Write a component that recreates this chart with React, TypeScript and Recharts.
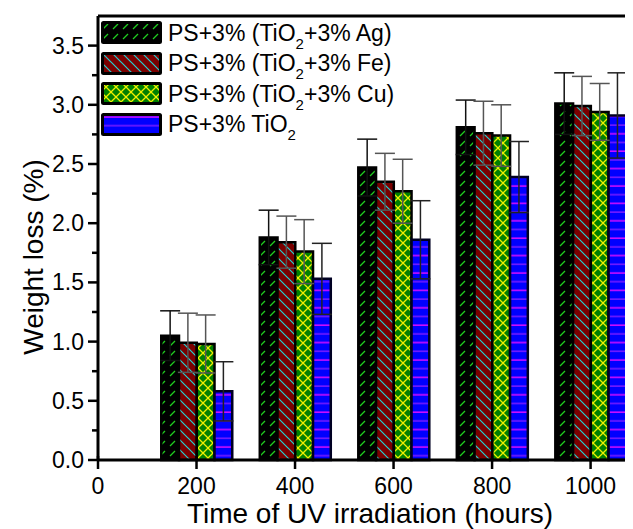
import React from "react";
import { BarChart, Bar, XAxis, YAxis, ErrorBar, ReferenceLine, Legend } from "recharts";

const hours = [200, 400, 600, 800, 1000];
const agLoss = [1.05, 1.88, 2.47, 2.81, 3.01];
const agErr = [0.21, 0.23, 0.24, 0.23, 0.26];
const feLoss = [0.99, 1.84, 2.35, 2.76, 2.99];
const feErr = [0.25, 0.22, 0.24, 0.27, 0.25];
const cuLoss = [0.98, 1.76, 2.27, 2.74, 2.94];
const cuErr = [0.245, 0.27, 0.27, 0.26, 0.24];
const tiLoss = [0.58, 1.53, 1.86, 2.39, 2.91];
const tiErr = [0.25, 0.3, 0.33, 0.3, 0.36];

const xTicks = [0, 200, 400, 600, 800, 1000];
const yTicks = [0, 0.25, 0.5, 0.75, 1, 1.25, 1.5, 1.75, 2, 2.25, 2.5, 2.75, 3, 3.25, 3.5];

const series = [
  { key: "ag", err: "agErr", pat: "patAg", stroke: "#000", errColor: "#111", metal: "Ag" },
  { key: "fe", err: "feErr", pat: "patFe", stroke: "#000", errColor: "#555", metal: "Fe" },
  { key: "cu", err: "cuErr", pat: "patCu", stroke: "#000", errColor: "#555", metal: "Cu" },
  { key: "ti", err: "tiErr", pat: "patTi", stroke: "#000022", errColor: "#222", metal: "" },
];

const data = hours.map((t, i) => ({
  t,
  ag: agLoss[i], agErr: agErr[i],
  fe: feLoss[i], feErr: feErr[i],
  cu: cuLoss[i], cuErr: cuErr[i],
  ti: tiLoss[i], tiErr: tiErr[i],
}));

const FONT = "Arial, 'Liberation Sans', sans-serif";

function Patterns() {
  return (
    <svg width={0} height={0} style={{ position: "absolute" }}>
      <defs>
        <pattern id="patAg" patternUnits="userSpaceOnUse" width={10} height={10}>
          <rect width={10} height={10} fill="#000" />
          <path d="M2,8 L7,3" stroke="#1fd01f" strokeWidth={1.2} />
        </pattern>
        <pattern id="patFe" patternUnits="userSpaceOnUse" width={10} height={10}>
          <rect width={10} height={10} fill="#7a0000" />
          <path d="M-1,-1 L11,11 M-1,9 L1,11 M9,-1 L11,1" stroke="#22d0d0" strokeWidth={1.2} />
        </pattern>
        <pattern id="patCu" patternUnits="userSpaceOnUse" width={10} height={10}>
          <rect width={10} height={10} fill="#008000" />
          <path d="M0,0 L10,10 M10,0 L0,10" stroke="#f0f000" strokeWidth={1.3} />
        </pattern>
        <pattern id="patTi" patternUnits="userSpaceOnUse" width={10} height={17.4}>
          <rect width={10} height={17.4} fill="#0000ff" />
          <path d="M0,4 L10,4" stroke="#ff10ff" strokeWidth={1.3} />
          <path d="M0,12.7 L10,12.7" stroke="#9020ff" strokeWidth={1.3} />
        </pattern>
      </defs>
    </svg>
  );
}

function YTick(props: any) {
  const { x, y, payload } = props;
  const v = payload.value as number;
  const major = Math.abs(v * 2 - Math.round(v * 2)) < 1e-6;
  return (
    <g>
      <line x1={x - (major ? 10 : 6)} x2={x} y1={y} y2={y} stroke="#000" strokeWidth={2.5} />
      {major && (
        <text x={x - 14} y={y + 8} textAnchor="end" fontSize={23} fontFamily={FONT} fill="#000" stroke="none">
          {v.toFixed(1)}
        </text>
      )}
    </g>
  );
}

function XTick(props: any) {
  const { x, y, payload } = props;
  return (
    <g>
      <line x1={x} x2={x} y1={y - 4} y2={y + 9} stroke="#000" strokeWidth={2.5} />
      <text x={x} y={y + 34} textAnchor="middle" fontSize={23} fontFamily={FONT} fill="#000" stroke="none">
        {payload.value}
      </text>
    </g>
  );
}

function YTitle() {
  return (
    <text x={35} y={249} transform="rotate(-90 35 249)" textAnchor="middle" fontSize={28} fontFamily={FONT} fill="#000" stroke="none">
      Weight loss (%)
    </text>
  );
}

function XTitle() {
  return (
    <text x={362} y={515} textAnchor="middle" fontSize={28} fontFamily={FONT} fill="#000" stroke="none">
      Time of UV irradiation (hours)
    </text>
  );
}

function LegendBox() {
  return (
    <div style={{ fontFamily: FONT, fontSize: 23, color: "#000" }}>
      {series.map((s) => (
        <div key={s.key} style={{ display: "flex", alignItems: "center", height: 30.5, whiteSpace: "nowrap" }}>
          <svg width={62} height={24} style={{ marginRight: 5 }}>
            <rect x={1.5} y={1.5} width={58} height={20} fill={`url(#${s.pat})`} stroke="#000" strokeWidth={3} rx={1} />
          </svg>
          <span>
            {s.metal ? "PS+3% (TiO" : "PS+3% TiO"}
            <span style={{ fontSize: 15, position: "relative", top: 8 }}>2</span>
            {s.metal ? `+3% ${s.metal})` : ""}
          </span>
        </div>
      ))}
    </div>
  );
}

export default function App() {
  return (
    <div style={{ position: "relative", width: 625, height: 521 }}>
      <Patterns />
      <BarChart
        width={625}
        height={521}
        data={data}
        margin={{ top: 8, right: 3, bottom: 0, left: 0 }}
        barGap={0}
        barSize={17.75}
      >
        <XAxis
          dataKey="t"
          type="number"
          domain={[0, 1080]}
          ticks={xTicks}
          interval={0}
          height={69}
          tickSize={0}
          tickMargin={0}
          tick={<XTick />}
          axisLine={{ stroke: "#000", strokeWidth: 3 }}
          label={<XTitle />}
        />
        <YAxis
          type="number"
          domain={[0, 3.75]}
          ticks={yTicks}
          interval={0}
          width={90}
          tickSize={0}
          tickMargin={0}
          tick={<YTick />}
          axisLine={{ stroke: "#000", strokeWidth: 3 }}
          label={<YTitle />}
        />
        <ReferenceLine y={3.75} stroke="#000" strokeWidth={3} />
        <ReferenceLine x={1080} stroke="#000" strokeWidth={3} />
        {series.map((s) => (
          <Bar key={s.key} dataKey={s.key} fill={`url(#${s.pat})`} stroke={s.stroke} strokeWidth={2.5} isAnimationActive={false}>
            <ErrorBar dataKey={s.err} direction="y" width={10} stroke={s.errColor} strokeWidth={1.5} />
          </Bar>
        ))}
        <Legend
          layout="horizontal"
          align="center"
          verticalAlign="middle"
          wrapperStyle={{ top: 10, left: 93, width: "auto" }}
          content={() => <LegendBox />}
        />
      </BarChart>
    </div>
  );
}
